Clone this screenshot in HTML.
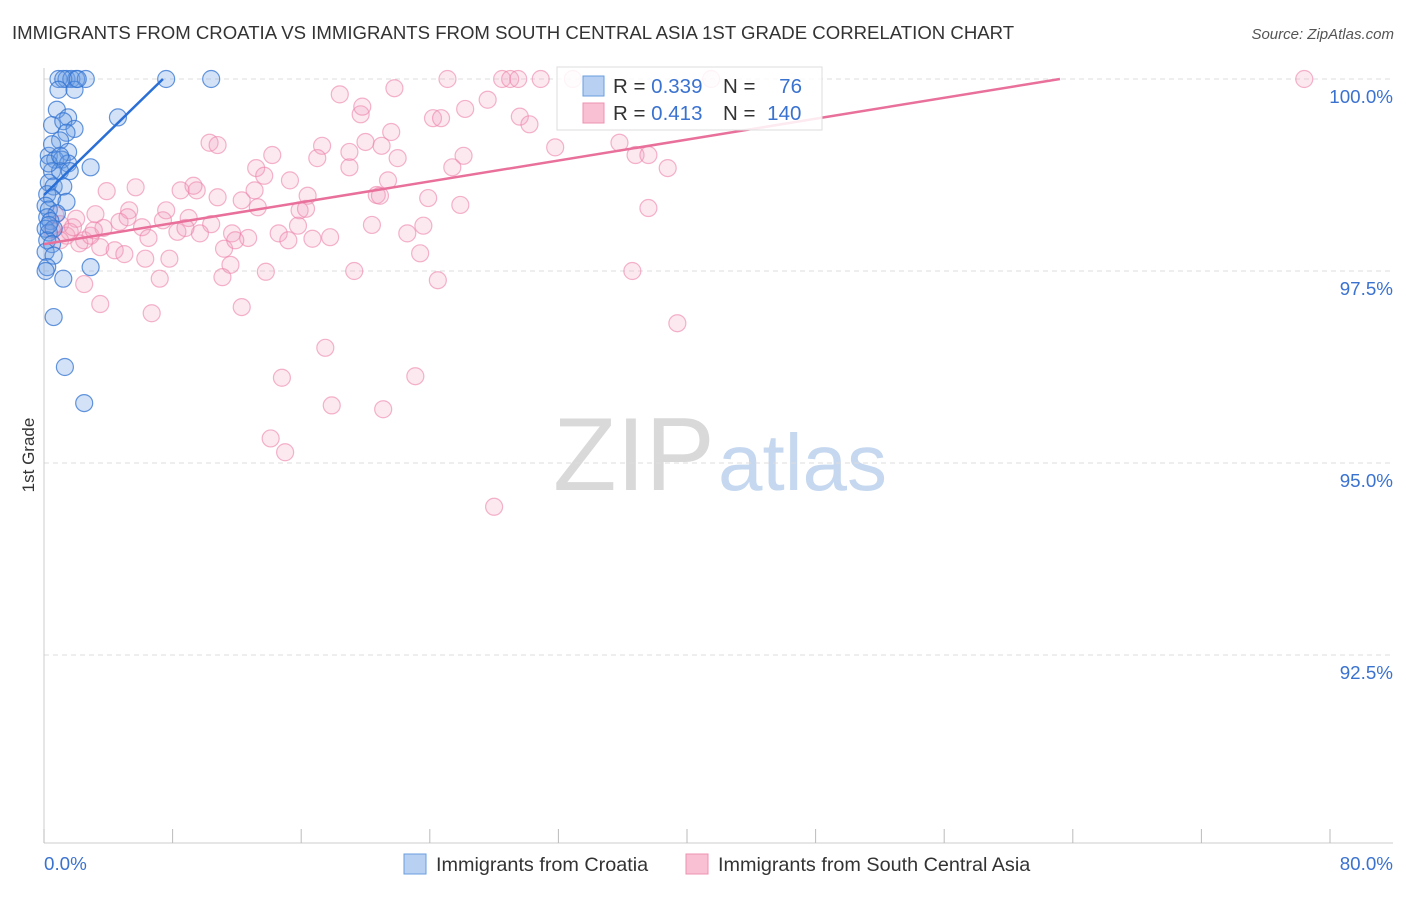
<!DOCTYPE html>
<html><head><meta charset="utf-8">
<style>
body{margin:0;background:#fff;font-family:"Liberation Sans",sans-serif;}
svg text{font-family:"Liberation Sans",sans-serif;}
</style></head>
<body>
<svg id="chart" width="1406" height="892" xmlns="http://www.w3.org/2000/svg">
<text x="12" y="39" font-size="18.6" fill="#333">IMMIGRANTS FROM CROATIA VS IMMIGRANTS FROM SOUTH CENTRAL ASIA 1ST GRADE CORRELATION CHART</text>
<text x="1394" y="39" font-size="15" fill="#555" text-anchor="end" font-style="italic">Source: ZipAtlas.com</text>
<g>
<text x="553" y="490" font-size="104" fill="#d9d9d9" font-family="Liberation Serif">ZIP</text>
<text x="718" y="490" font-size="80" fill="#c5d8ef">atlas</text>
</g>
<g id="grid"></g>
<g id="axes"></g>
<g id="points"></g>
<g id="lines"></g>
<text transform="translate(34,455) rotate(-90)" font-size="17" fill="#333" text-anchor="middle">1st Grade</text>
<g>
<rect x="557" y="67" width="265" height="63" fill="#fff" fill-opacity="0.85" stroke="#ddd"/>
<rect x="583" y="76" width="21" height="20" fill="#b8d0f2" stroke="#6a9ee0"/>
<rect x="583" y="103" width="21" height="20" fill="#f8c0d2" stroke="#ec92b2"/>
<text x="613" y="93" font-size="20.5" fill="#333">R = <tspan fill="#3a72d0">0.339</tspan></text>
<text x="723" y="93" font-size="20.5" fill="#333">N = <tspan fill="#3a72d0" dx="18">76</tspan></text>
<text x="613" y="120" font-size="20.5" fill="#333">R = <tspan fill="#3a72d0"> 0.413</tspan></text>
<text x="723" y="120" font-size="20.5" fill="#333">N = <tspan fill="#3a72d0" dx="6">140</tspan></text>
</g>
<g>
<rect x="404" y="854" width="22" height="20" fill="#b8d0f2" stroke="#6a9ee0"/>
<text x="436" y="871" font-size="19.8" fill="#333">Immigrants from Croatia</text>
<rect x="686" y="854" width="22" height="20" fill="#f8c0d2" stroke="#ec92b2"/>
<text x="718" y="871" font-size="19.8" fill="#333">Immigrants from South Central Asia</text>
</g>
</svg>
<script>
const xTicks=[0,8,16,24,32,40,48,56,64,72,80];
const yTicks=[100,97.5,95,92.5];
const yTickLabels=["100.0%","97.5%","95.0%","92.5%"];
const xEndLabels=["0.0%","80.0%"];
const blueX=[0.9,1.4,1.7,2.0,2.6,1.2,7.6,10.4,0.9,1.9,0.8,1.5,4.6,0.5,1.2,1.9,1.4,1.0,1.5,0.3,0.7,1.1,1.5,2.9,0.5,1.0,1.6,0.3,0.6,1.2,0.2,0.5,1.4,0.1,0.3,0.8,0.2,0.4,0.1,0.3,0.6,0.2,0.5,0.1,0.6,0.2,2.9,0.1,1.2,0.6,1.3,2.5,0.3,0.5,0.3,2.1,1.0];
const blueY=[100,100,100,100,100,100,100,100,99.86,99.86,99.6,99.5,99.5,99.4,99.45,99.35,99.3,99.2,99.05,99.0,98.95,98.95,98.9,98.85,98.8,98.8,98.8,98.65,98.6,98.6,98.5,98.45,98.4,98.35,98.3,98.25,98.2,98.15,98.05,98.0,98.05,97.9,97.85,97.75,97.7,97.55,97.55,97.5,97.4,96.9,96.25,95.78,98.1,99.15,98.9,100,99.0];
const pinkX=[78.4,25.1,28.5,29.0,29.5,30.9,32.9,41.5,18.4,21.8,26.2,27.6,19.7,19.8,24.2,24.7,29.6,30.2,21.6,31.8,35.8,36.8,37.6,38.8,17.3,19.0,20.0,21.0,22.0,26.1,25.4,17.0,19.0,14.2,13.2,13.7,15.3,16.4,21.4,20.7,20.9,23.9,25.9,37.6,10.3,10.8,9.5,10.8,8.5,9.3,5.7,3.9,13.1,12.3,13.3,15.9,16.3,20.4,23.6,22.6,15.8,7.6,5.3,3.2,2.0,9.0,10.4,11.7,8.3,12.7,14.6,16.7,17.8,15.2,6.1,6.5,2.5,1.0,0.5,1.4,2.2,4.4,5.0,3.5,6.3,7.8,11.2,11.6,11.1,7.2,2.5,3.5,6.7,12.3,13.8,19.3,24.5,23.4,36.6,39.4,17.5,14.8,23.1,17.9,21.1,14.1,15.0,28.0,1.6,2.9,1.0,3.7,0.7,1.8,4.7,9.7,3.1,7.4,8.8,11.9,5.2];
const pinkY=[100,100,100,100,100,100,100,100,99.80,99.88,99.61,99.73,99.54,99.64,99.49,99.49,99.51,99.41,99.31,99.11,99.17,99.01,99.01,98.84,99.13,99.05,99.18,99.13,98.97,99.00,98.85,98.97,98.85,99.01,98.84,98.74,98.68,98.48,98.68,98.49,98.48,98.45,98.36,98.32,99.17,99.14,98.55,98.46,98.55,98.61,98.59,98.54,98.55,98.42,98.33,98.29,98.31,98.10,98.09,97.99,98.09,98.29,98.29,98.24,98.18,98.19,98.11,97.99,98.01,97.93,97.99,97.92,97.94,97.90,98.07,97.93,97.90,98.11,98.03,97.96,97.86,97.77,97.72,97.81,97.66,97.66,97.79,97.58,97.42,97.40,97.33,97.07,96.95,97.03,97.49,97.50,97.38,97.73,97.50,96.82,96.50,96.11,96.13,95.75,95.70,95.32,95.14,94.43,98.01,97.96,97.90,98.06,98.23,98.07,98.14,97.99,98.03,98.16,98.06,97.90,98.20];
const blueTrend=[0,98.49,7.4,100];
const pinkTrend=[0,97.85,63.2,100];
const X0=44,X1=1330,Y100=79,PXPER=76.8;
function sx(v){return X0+v/80*(X1-X0);}
function sy(v){return Y100+(100-v)*PXPER;}
const NS="http://www.w3.org/2000/svg";
function mk(tag,attrs,parent){const e=document.createElementNS(NS,tag);for(const k in attrs)e.setAttribute(k,attrs[k]);parent.appendChild(e);return e;}
const grid=document.getElementById('grid'),axes=document.getElementById('axes'),pts=document.getElementById('points'),lines=document.getElementById('lines');
yTicks.forEach((t,i)=>{
  const l=mk('line',{x1:X0,x2:1393,y1:sy(t),y2:sy(t),stroke:'#ddd','stroke-dasharray':'5,4'},grid);
  
  
  const tx=mk('text',{x:1393,y:sy(t)+24,'font-size':18.8,fill:'#3a72d0','text-anchor':'end'},axes);
  tx.textContent=yTickLabels[i];
  
  
});
const ax=mk('line',{x1:X0,x2:1393,y1:843,y2:843,stroke:'#ccc'},axes);


const ay=mk('line',{x1:X0,x2:X0,y1:68,y2:843,stroke:'#ccc'},axes);


xTicks.forEach(t=>{
  const l=mk('line',{x1:sx(t),x2:sx(t),y1:829,y2:843,stroke:'#bbb'},axes);
  
  
});
const xl0=mk('text',{x:44,y:870,'font-size':18.8,fill:'#3a72d0'},axes);xl0.textContent=xEndLabels[0];


const xl1=mk('text',{x:1393,y:870,'font-size':18.8,fill:'#3a72d0','text-anchor':'end'},axes);xl1.textContent=xEndLabels[1];


pinkX.forEach((x,i)=>{
  const c=mk('circle',{cx:sx(x),cy:sy(pinkY[i]),r:8.5,fill:'rgba(244,160,190,0.24)',stroke:'rgba(236,130,170,0.6)','stroke-width':1.2},pts);
  
  
});
blueX.forEach((x,i)=>{
  const c=mk('circle',{cx:sx(x),cy:sy(blueY[i]),r:8.5,fill:'rgba(110,160,230,0.3)',stroke:'rgba(50,115,210,0.75)','stroke-width':1.2},pts);
  
  
});
const bl=mk('line',{x1:sx(blueTrend[0]),y1:sy(blueTrend[1]),x2:sx(blueTrend[2]),y2:sy(blueTrend[3]),stroke:'#2a6fd6','stroke-width':2.5},lines);


const pl=mk('line',{x1:sx(pinkTrend[0]),y1:sy(pinkTrend[1]),x2:sx(pinkTrend[2]),y2:sy(pinkTrend[3]),stroke:'#e8709a','stroke-width':2.5},lines);


</script>
</body></html>
